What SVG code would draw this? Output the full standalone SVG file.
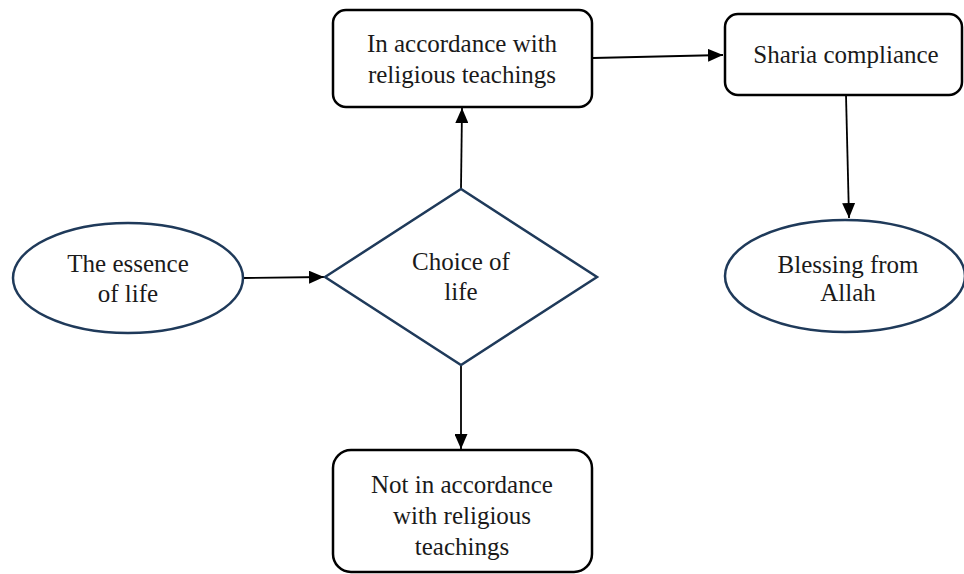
<svg xmlns="http://www.w3.org/2000/svg" width="964" height="574" viewBox="0 0 964 574">
<defs>
<marker id="arr" markerWidth="15" markerHeight="13" refX="15" refY="6.5" orient="auto" markerUnits="userSpaceOnUse">
<path d="M0,0 L15,6.5 L0,13 Z" fill="#000"/>
</marker>
<style>
.lbl{font-family:"Liberation Serif","Times New Roman",serif;font-size:25px;fill:#1a1a1a;text-anchor:middle}
.ell{fill:#fff;stroke:#1f3a5a;stroke-width:2.5}
.box{fill:#fff;stroke:#000;stroke-width:2.5}
.con{fill:none;stroke:#000;stroke-width:1.8;marker-end:url(#arr)}
</style>
</defs>
<rect width="964" height="574" fill="#fff"/>
<g id="connectors">
<line class="con" x1="243" y1="278" x2="324" y2="277"/>
<line class="con" x1="461" y1="188" x2="462" y2="108"/>
<line class="con" x1="461" y1="366" x2="461" y2="449"/>
<line class="con" x1="593" y1="58" x2="723" y2="55"/>
<line class="con" x1="846" y1="95" x2="849" y2="218"/>
</g>
<g id="essence">
<ellipse class="ell" cx="128" cy="278" rx="115" ry="55"/>
<text class="lbl" x="128" y="272">The essence</text>
<text class="lbl" x="128" y="302">of life</text>
</g>
<g id="choice">
<polygon class="ell" points="325,277 461,189 597,277 461,365"/>
<text class="lbl" x="461" y="270">Choice of</text>
<text class="lbl" x="461" y="300">life</text>
</g>
<g id="accordance">
<rect class="box" x="333" y="10" width="259" height="97" rx="13"/>
<text class="lbl" x="462" y="52">In accordance with</text>
<text class="lbl" x="462" y="83">religious teachings</text>
</g>
<g id="sharia">
<rect class="box" x="725" y="14" width="237" height="81" rx="13"/>
<text class="lbl" x="846" y="63">Sharia compliance</text>
</g>
<g id="blessing">
<ellipse class="ell" cx="845" cy="276" rx="120" ry="56"/>
<text class="lbl" x="848" y="273">Blessing from</text>
<text class="lbl" x="848" y="301">Allah</text>
</g>
<g id="notaccordance">
<rect class="box" x="333" y="450" width="259" height="122" rx="18"/>
<text class="lbl" x="462" y="493">Not in accordance</text>
<text class="lbl" x="462" y="524">with religious</text>
<text class="lbl" x="462" y="555">teachings</text>
</g>
</svg>
